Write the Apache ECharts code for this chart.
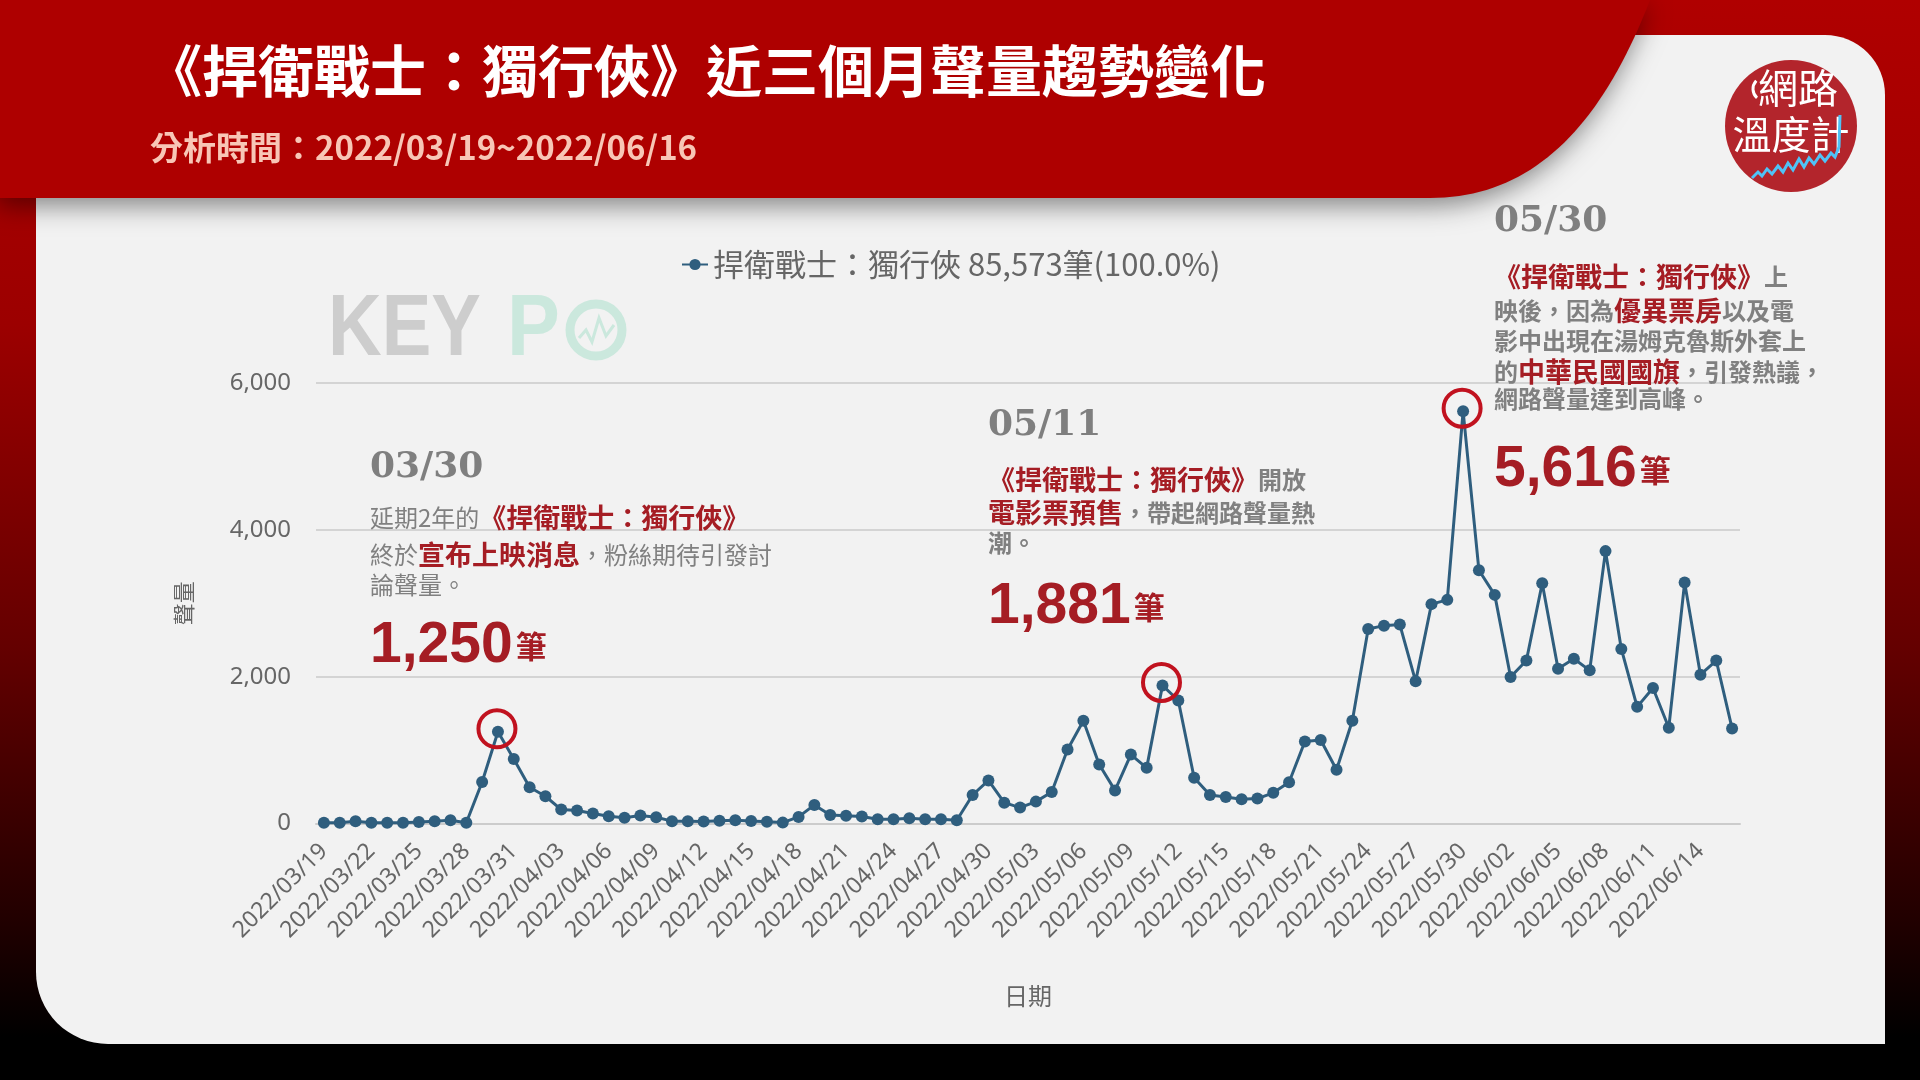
<!DOCTYPE html>
<html><head><meta charset="utf-8">
<script src="https://cdn.jsdelivr.net/npm/echarts@6/dist/echarts.min.js"></script>
<style>html,body{margin:0;padding:0;background:#000}#c{width:1920px;height:1080px}</style>
</head><body><div id="c"></div>
<script>
// ---------------- DATA ----------------
const TITLE = '《捍衛戰士：獨行俠》近三個月聲量趨勢變化';
const SUBTITLE = '分析時間：2022/03/19~2022/06/16';
const SERIES_NAME = '捍衛戰士：獨行俠';
const TOTAL_LABEL = '85,573筆(100.0%)';
const X_NAME = '日期';
const Y_NAME = '聲量';
const UNIT = '筆';

const dates = [
 '2022/03/19','2022/03/20','2022/03/21','2022/03/22','2022/03/23','2022/03/24','2022/03/25','2022/03/26','2022/03/27','2022/03/28','2022/03/29','2022/03/30','2022/03/31',
 '2022/04/01','2022/04/02','2022/04/03','2022/04/04','2022/04/05','2022/04/06','2022/04/07','2022/04/08','2022/04/09','2022/04/10','2022/04/11','2022/04/12','2022/04/13','2022/04/14','2022/04/15','2022/04/16','2022/04/17','2022/04/18','2022/04/19','2022/04/20','2022/04/21','2022/04/22','2022/04/23','2022/04/24','2022/04/25','2022/04/26','2022/04/27','2022/04/28','2022/04/29','2022/04/30',
 '2022/05/01','2022/05/02','2022/05/03','2022/05/04','2022/05/05','2022/05/06','2022/05/07','2022/05/08','2022/05/09','2022/05/10','2022/05/11','2022/05/12','2022/05/13','2022/05/14','2022/05/15','2022/05/16','2022/05/17','2022/05/18','2022/05/19','2022/05/20','2022/05/21','2022/05/22','2022/05/23','2022/05/24','2022/05/25','2022/05/26','2022/05/27','2022/05/28','2022/05/29','2022/05/30','2022/05/31',
 '2022/06/01','2022/06/02','2022/06/03','2022/06/04','2022/06/05','2022/06/06','2022/06/07','2022/06/08','2022/06/09','2022/06/10','2022/06/11','2022/06/12','2022/06/13','2022/06/14','2022/06/15','2022/06/16'
];

const values = [
 10, 10, 30, 10, 10, 10, 20, 30, 45, 10,
 566, 1250, 878, 493, 371, 190, 176, 136, 100, 77,
 109, 86, 32, 32, 28, 38, 45, 34, 23, 12,
 90, 253, 117, 104, 95, 59, 59, 72, 59, 59,
 45, 388, 587, 284, 217, 298, 429, 1007, 1400, 804,
 451, 939, 758, 1881, 1675, 623, 388, 361, 330, 339,
 418, 562, 1116, 1137, 732, 1400, 2649, 2695, 2709, 1936,
 2988, 3046, 5616, 3449, 3114, 1996, 2220, 3272, 2109, 2244,
 2086, 3710, 2378, 1589, 1846, 1305, 3282, 2027, 2220, 1295
];

const yMin = 0, yMax = 6000, yStep = 2000;

// annotated peaks and their text (g = gray, r = red highlight)
const noteDates = ['2022/03/30', '2022/05/11', '2022/05/30'];
const noteTexts = [
 [ [['g','延期2年的'],['r','《捍衛戰士：獨行俠》']],
   [['g','終於'],['r','宣布上映消息'],['g','，粉絲期待引發討']],
   [['g','論聲量。']] ],
 [ [['r','《捍衛戰士：獨行俠》'],['g','開放']],
   [['r','電影票預售'],['g','，帶起網路聲量熱']],
   [['g','潮。']] ],
 [ [['r','《捍衛戰士：獨行俠》'],['g','上']],
   [['g','映後，因為'],['r','優異票房'],['g','以及電']],
   [['g','影中出現在湯姆克魯斯外套上']],
   [['g','的'],['r','中華民國國旗'],['g','，引發熱議，']],
   [['g','網路聲量達到高峰。']] ]
];

// ---------------- LAYOUT / STYLE ----------------
const CJK = '"Noto Sans CJK TC","Noto Sans CJK SC",sans-serif';
const LINE_COLOR = '#2f5e7e';
const RED = '#a51d24';
const GRAY = '#808080';

const noteLayout = [
 { left: 370, dateY: 468, lineYs: [518, 555, 585], bigY: 646, grayWeight: 'normal' },
 { left: 988, dateY: 426, lineYs: [480, 513, 543], bigY: 607, grayWeight: 'bold' },
 { left: 1494, dateY: 222, lineYs: [277, 311, 341, 372, 399], bigY: 470, grayWeight: 'bold' }
];

const titles = [
 { text: TITLE, left: 146, top: 40, padding: 0,
   textStyle: { color: '#ffffff', fontSize: 56, fontWeight: 'bold', fontFamily: CJK, lineHeight: 62 } },
 { text: SUBTITLE, left: 150, top: 127, padding: 0,
   textStyle: { color: '#f8c6b6', fontSize: 33, fontWeight: 'bold', fontFamily: CJK, lineHeight: 40 } }
];

noteDates.forEach((d, i) => {
  const L = noteLayout[i];
  const idx = dates.indexOf(d);
  titles.push({ text: d.slice(5), left: L.left, top: L.dateY - 20, padding: 0,
    textStyle: { color: '#7f7f7f', fontSize: 36, fontWeight: 'bold', fontFamily: '"DejaVu Serif",serif', lineHeight: 40 } });
  const rich = {
    g: { color: GRAY, fontSize: 24, fontWeight: L.grayWeight, fontFamily: CJK, lineHeight: 34, verticalAlign: 'middle' },
    r: { color: RED, fontSize: 27, fontWeight: 'bold', fontFamily: CJK, lineHeight: 34, verticalAlign: 'middle' }
  };
  noteTexts[i].forEach((line, j) => {
    titles.push({ text: line.map(s => '{' + s[0] + '|' + s[1] + '}').join(''),
      left: L.left, top: L.lineYs[j] - 17, padding: 0, textStyle: { rich: rich, lineHeight: 34 } });
  });
  titles.push({ text: '{n|' + values[idx].toLocaleString('en-US') + '}{u|' + UNIT + '}',
    left: L.left, top: L.bigY - 30, padding: 0,
    textStyle: { rich: {
      n: { color: RED, fontSize: 57, fontWeight: 'bold', fontFamily: '"Liberation Sans",Arial,sans-serif', lineHeight: 60, verticalAlign: 'middle' },
      u: { color: RED, fontSize: 31, fontWeight: 'bold', fontFamily: CJK, lineHeight: 60, verticalAlign: 'middle', padding: [0, 0, 0, 3] }
    } } });
});

const bgGrad = new echarts.graphic.LinearGradient(0, 0, 0, 1, [
  { offset: 0, color: '#b00000' }, { offset: 0.3, color: '#9c0000' },
  { offset: 0.6, color: '#640000' }, { offset: 0.85, color: '#220000' }, { offset: 0.96, color: '#000000' }
]);

// red header band outline (page-curl edge sampled from a cubic curve)
function bandPoints() {
  const p0 = [1650, 0], p1 = [1600, 130], p2 = [1530, 198], p3 = [1430, 198];
  const pts = [[0, 0]];
  for (let k = 0; k <= 40; k++) {
    const t = k / 40, u = 1 - t;
    pts.push([u*u*u*p0[0] + 3*u*u*t*p1[0] + 3*u*t*t*p2[0] + t*t*t*p3[0],
              u*u*u*p0[1] + 3*u*u*t*p1[1] + 3*u*t*t*p2[1] + t*t*t*p3[1]]);
  }
  pts.push([0, 198]);
  return pts;
}

const mint = '#cbe8dd';
const graphics = [
  { type: 'rect', z: -100, shape: { x: 0, y: 0, width: 1920, height: 1080 }, style: { fill: bgGrad } },
  { type: 'rect', z: -99, shape: { x: 36, y: 35, width: 1849, height: 1009, r: [0, 60, 0, 72] }, style: { fill: '#f2f2f2' } },
  { type: 'polygon', z: -98, shape: { points: bandPoints() },
    style: { fill: '#ae0000', shadowBlur: 26, shadowColor: 'rgba(0,0,0,0.45)', shadowOffsetY: 8, shadowOffsetX: -3 } },
  // KEYPO watermark
  { type: 'text', z: -97, x: 328, y: 331, scaleX: 0.845,
    style: { text: 'KEY', font: 'bold 88px "Liberation Sans"', fill: '#cdcdcd', textVerticalAlign: 'middle' } },
  { type: 'text', z: -97, x: 507, y: 331, scaleX: 0.9,
    style: { text: 'P', font: 'bold 88px "Liberation Sans"', fill: mint, textVerticalAlign: 'middle' } },
  { type: 'circle', z: -97, shape: { cx: 596, cy: 330, r: 26 }, style: { fill: 'none', stroke: mint, lineWidth: 9 } },
  { type: 'polyline', z: -97, shape: { points: [[579, 338], [586, 330], [592, 342], [599, 318], [606, 336], [614, 325]] },
    style: { fill: 'none', stroke: mint, lineWidth: 3 } },
  // 網路溫度計 logo
  { type: 'circle', z: 50, shape: { cx: 1791, cy: 126, r: 66 }, style: { fill: '#b3252c' } },
  { type: 'text', z: 51, x: 1798, y: 88,
    style: { text: '網路', font: '40px ' + CJK, fill: '#ffffff', textAlign: 'center', textVerticalAlign: 'middle' } },
  { type: 'arc', z: 51, shape: { cx: 1765, cy: 89, r: 12, startAngle: 2.3, endAngle: 3.9 }, style: { fill: 'none', stroke: '#fff', lineWidth: 3 } },
  { type: 'text', z: 51, x: 1791, y: 134,
    style: { text: '溫度計', font: '39px ' + CJK, fill: '#ffffff', textAlign: 'center', textVerticalAlign: 'middle' } },
  { type: 'polyline', z: 52, shape: { points: [[1752,178],[1758,172],[1762,176],[1767,169],[1772,174],[1778,166],[1783,172],[1788,163],[1793,170],[1799,159],[1804,167],[1809,158],[1814,164],[1820,155],[1825,161],[1831,153],[1835,157],[1839,147],[1840,115]] },
    style: { fill: 'none', stroke: '#4fc3f7', lineWidth: 3 } }
];

const chart = echarts.init(document.getElementById('c'), null, { renderer: 'canvas' });
chart.setOption({
  animation: false,
  title: titles,
  legend: {
    left: 676, top: 244, itemWidth: 26, itemHeight: 14, itemGap: 10,
    textStyle: { fontSize: 31, color: '#666', fontFamily: CJK },
    formatter: n => n + ' ' + TOTAL_LABEL,
    data: [SERIES_NAME]
  },
  grid: { left: 316, right: 180, top: 383, bottom: 256.5 },
  xAxis: {
    type: 'category', data: dates, boundaryGap: true,
    name: X_NAME, nameLocation: 'middle', nameGap: 160,
    nameTextStyle: { fontSize: 24, color: '#666', fontFamily: CJK },
    axisLine: { lineStyle: { color: '#cccccc', width: 2 } },
    axisTick: { alignWithLabel: true, interval: 2, length: 16, lineStyle: { color: '#cccccc', width: 2 } },
    axisLabel: { interval: 2, rotate: 45, fontSize: 23, color: '#666', margin: 24, fontFamily: '"Noto Sans",sans-serif' }
  },
  yAxis: {
    type: 'value', min: yMin, max: yMax, interval: yStep,
    name: Y_NAME, nameLocation: 'middle', nameGap: 121,
    nameTextStyle: { fontSize: 22, color: '#666', fontFamily: CJK },
    axisLine: { show: false }, axisTick: { show: false },
    axisLabel: { fontSize: 24, color: '#666', margin: 25, fontFamily: '"Noto Sans",sans-serif',
      formatter: v => v.toLocaleString('en-US') },
    splitLine: { lineStyle: { color: '#d4d4d4', width: 2 } }
  },
  series: [{
    name: SERIES_NAME, type: 'line', data: values,
    symbol: 'circle', symbolSize: 12, showSymbol: true, showAllSymbol: true,
    lineStyle: { color: LINE_COLOR, width: 3 },
    itemStyle: { color: LINE_COLOR },
    markPoint: {
      symbol: 'circle', symbolSize: 37, symbolOffset: [-1, -3], silent: true,
      itemStyle: { color: 'rgba(0,0,0,0)', borderColor: '#c1121f', borderWidth: 4 },
      label: { show: false },
      data: noteDates.map(d => ({ coord: [d, values[dates.indexOf(d)]] }))
    }
  }],
  graphic: graphics
});
</script>
</body></html>
